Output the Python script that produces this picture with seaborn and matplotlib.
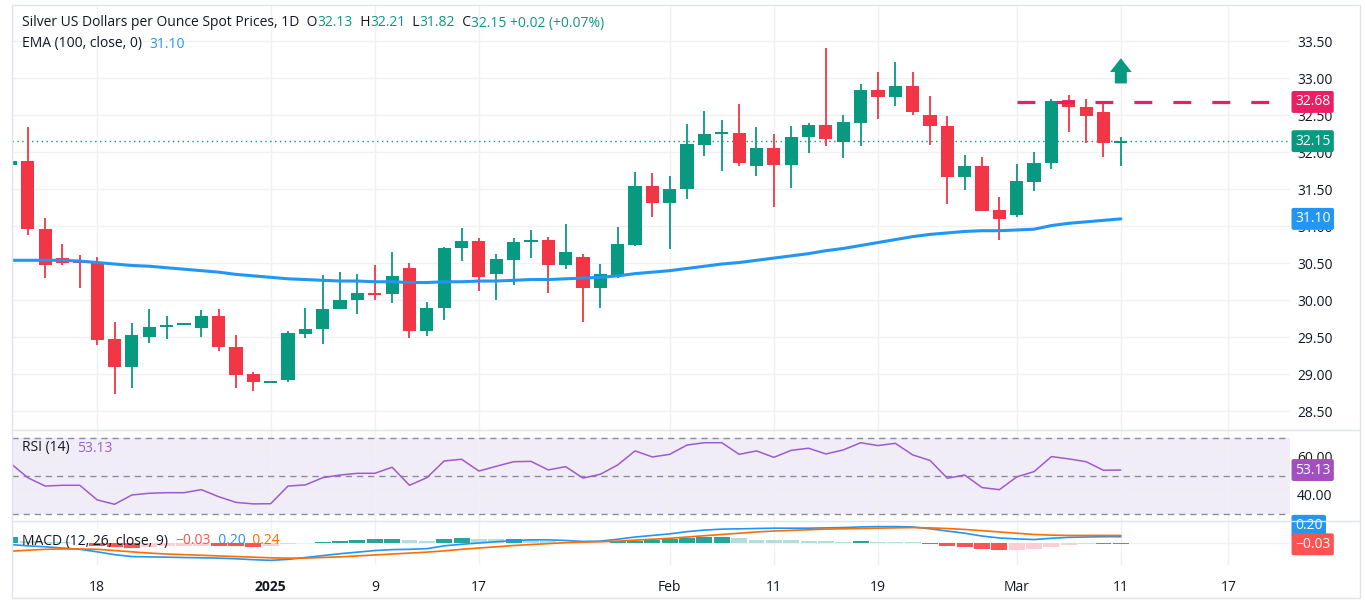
import numpy as np
import pandas as pd
import matplotlib
matplotlib.use("Agg")
import matplotlib.pyplot as plt
import matplotlib.transforms as mtransforms
from matplotlib.lines import Line2D
from matplotlib.patches import Rectangle
import seaborn as sns

# bar 0 is 2025-01-01, bar -15 is 2024-12-11 (partly cut at the left edge)
barIndex = list(range(-15, 50))

openPrices = [31.83, 31.88, 30.96, 30.57, 30.53, 30.51, 29.47, 29.10, 29.51, 29.64,
              29.67, 29.63, 29.79, 29.37, 29.00, 28.89, 28.92, 29.55, 29.61, 29.88,
              30.01, 30.10, 30.09, 30.43, 29.59, 29.89, 30.71, 30.80, 30.35, 30.55,
              30.79, 30.81, 30.48, 30.59, 30.16, 30.34, 30.75, 31.54, 31.32, 31.51,
              32.10, 32.25, 32.26, 31.82, 32.06, 31.83, 32.21, 32.37, 32.14, 32.40,
              32.84, 32.75, 32.90, 32.50, 32.35, 31.67, 31.81, 31.22, 31.15, 31.60,
              31.86, 32.70, 32.61, 32.54, 32.13]
highPrices = [31.90, 32.34, 31.11, 30.76, 30.61, 30.58, 29.71, 29.69, 29.88, 29.79,
              29.69, 29.87, 29.88, 29.53, 29.03, 28.91, 29.59, 29.90, 30.34, 30.38,
              30.36, 30.48, 30.65, 30.51, 29.98, 30.72, 30.98, 30.84, 30.63, 30.84,
              30.95, 30.86, 31.03, 30.63, 30.49, 30.99, 31.73, 31.72, 31.68, 32.38,
              32.56, 32.43, 32.65, 32.34, 32.25, 32.36, 32.39, 33.41, 32.50, 32.92,
              33.09, 33.22, 33.09, 32.76, 32.49, 31.96, 31.94, 31.40, 31.84, 32.01,
              32.72, 32.77, 32.72, 32.68, 32.21]
lowPrices = [31.80, 30.88, 30.30, 30.47, 30.16, 29.39, 28.73, 28.81, 29.42, 29.47,
             29.66, 29.51, 29.32, 28.81, 28.78, 28.89, 28.89, 29.49, 29.41, 29.88,
             29.81, 30.00, 29.96, 29.49, 29.52, 29.73, 30.53, 30.13, 30.00, 30.20,
             30.57, 30.10, 30.42, 29.70, 29.89, 30.30, 30.73, 31.13, 30.69, 31.37,
             31.95, 31.75, 31.81, 31.68, 31.26, 31.52, 31.99, 32.08, 31.92, 32.09,
             32.45, 32.63, 32.50, 32.10, 31.30, 31.49, 31.20, 30.81, 31.12, 31.47,
             31.78, 32.27, 32.12, 31.94, 31.82]
closePrices = [31.88, 30.96, 30.47, 30.51, 30.51, 29.46, 29.10, 29.53, 29.64, 29.67,
               29.69, 29.79, 29.37, 28.99, 28.89, 28.91, 29.56, 29.61, 29.88, 30.01,
               30.10, 30.08, 30.33, 29.59, 29.90, 30.71, 30.80, 30.32, 30.56, 30.79,
               30.81, 30.47, 30.65, 30.16, 30.35, 30.76, 31.54, 31.32, 31.50, 32.11,
               32.25, 32.27, 31.86, 32.06, 31.83, 32.21, 32.37, 32.18, 32.41, 32.84,
               32.75, 32.90, 32.55, 32.35, 31.67, 31.81, 31.21, 31.10, 31.61, 31.86,
               32.69, 32.61, 32.49, 32.12, 32.15]
emaValues = [30.54, 30.54, 30.54, 30.54, 30.53, 30.51, 30.49, 30.47, 30.46, 30.44,
             30.42, 30.40, 30.38, 30.35, 30.33, 30.31, 30.29, 30.28, 30.27, 30.26,
             30.26, 30.25, 30.25, 30.24, 30.24, 30.25, 30.25, 30.26, 30.26, 30.27,
             30.28, 30.28, 30.29, 30.30, 30.31, 30.33, 30.36, 30.38, 30.40, 30.43,
             30.46, 30.49, 30.51, 30.54, 30.57, 30.60, 30.63, 30.67, 30.70, 30.74,
             30.78, 30.82, 30.86, 30.89, 30.91, 30.93, 30.94, 30.94, 30.95, 30.96,
             31.01, 31.04, 31.06, 31.08, 31.10]
rsiValues = [56.7, 49.1, 44.7, 45.1, 45.1, 37.4, 35.1, 40.0, 40.9, 41.2,
             41.2, 42.8, 39.1, 36.1, 35.3, 35.4, 44.7, 45.3, 49.1, 50.5,
             51.4, 51.4, 54.6, 45.1, 49.1, 57.9, 58.8, 52.6, 55.1, 57.5,
             57.7, 53.2, 54.9, 48.9, 50.9, 55.8, 63.2, 60.0, 61.4, 66.3,
             67.5, 67.5, 61.4, 63.2, 59.8, 63.5, 64.6, 61.6, 63.7, 67.5,
             66.0, 67.2, 61.1, 58.2, 48.8, 50.5, 43.9, 42.8, 49.5, 52.3,
             60.2, 59.0, 57.5, 53.0, 53.13]
macdValues = [-0.05, -0.09, -0.12, -0.16, -0.20, -0.28, -0.37, -0.43, -0.44, -0.45,
              -0.46, -0.47, -0.48, -0.50, -0.53, -0.55, -0.52, -0.46, -0.40, -0.34,
              -0.29, -0.24, -0.21, -0.20, -0.18, -0.09, -0.04, 0.00, 0.04, 0.08,
              0.10, 0.10, 0.08, 0.05, 0.06, 0.12, 0.19, 0.24, 0.29, 0.36,
              0.41, 0.44, 0.45, 0.46, 0.47, 0.47, 0.47, 0.48, 0.49, 0.51,
              0.52, 0.52, 0.51, 0.45, 0.38, 0.31, 0.22, 0.16, 0.13, 0.11,
              0.15, 0.18, 0.19, 0.20, 0.20]
signalValues = [-0.26, -0.23, -0.20, -0.19, -0.19, -0.20, -0.24, -0.28, -0.32, -0.35,
                -0.37, -0.39, -0.41, -0.43, -0.45, -0.47, -0.48, -0.48, -0.46, -0.44,
                -0.41, -0.38, -0.35, -0.32, -0.29, -0.25, -0.20, -0.16, -0.12, -0.08,
                -0.05, -0.02, 0.01, 0.03, 0.04, 0.06, 0.09, 0.12, 0.15, 0.19,
                0.23, 0.27, 0.31, 0.35, 0.38, 0.40, 0.42, 0.44, 0.45, 0.46,
                0.47, 0.48, 0.49, 0.48, 0.46, 0.43, 0.39, 0.35, 0.31, 0.27,
                0.25, 0.24, 0.24, 0.24, 0.24]
histValues = [0.19, 0.06, 0.04, 0.03, 0.01, -0.10, -0.14, -0.15, -0.12, -0.10,
              -0.09, -0.08, -0.10, -0.11, -0.12, -0.08, -0.04, 0.01, 0.03, 0.06,
              0.10, 0.13, 0.14, 0.10, 0.06, 0.12, 0.16, 0.13, 0.12, 0.13,
              0.08, 0.05, 0.03, 0.02, 0.01, 0.05, 0.07, 0.10, 0.12, 0.15,
              0.175, 0.18, 0.15, 0.11, 0.09, 0.08, 0.075, 0.05, 0.04, 0.05,
              0.045, 0.04, 0.02, -0.04, -0.08, -0.13, -0.19, -0.23, -0.21, -0.19,
              -0.12, -0.05, -0.02, -0.025, -0.03]

tickPositions = [-10, 0, 6, 12, 23, 29, 35, 43, 49, 55.2]
tickLabels = ["18", "2025", "9", "17", "Feb", "11", "19", "Mar", "11", "17"]
priceTicks = [28.5, 29.0, 29.5, 30.0, 30.5, 31.0, 31.5, 32.0, 32.5, 33.0, 33.5]
rsiTicks = [40, 60]
rsiBands = [30, 50, 70]

resistanceLevel = 32.68
resistanceStartBar = 43
arrowBase = 32.93
arrowTop = 33.27

upColor = "#089981"
downColor = "#f23645"
emaColor = "#2196f3"
rsiColor = "#9c5bcf"
macdColor = "#2196f3"
signalColor = "#ff6d00"
histColors = {"upStrong" : "#26a69a", "upWeak" : "#b2dfdb",
              "downStrong" : "#ff5252", "downWeak" : "#ffcdd2"}
textColor = "#131722"
gridColor = "#f0f1f4"
lineColor = "#e0e3eb"

W, H = 1365, 608


def pxBox(left, top, right, bottom) :
    return [left / W, 1 - bottom / H, (right - left) / W, (bottom - top) / H]


def addTag(ax, y, txt, color, yInAxes = False) :
    trans = mtransforms.blended_transform_factory(
        ax.transAxes, ax.transAxes if yInAxes else ax.transData)
    ax.text(1.0 + 5 / 1278, y, txt, transform = trans, ha = "left", va = "center",
            color = "white", fontsize = 10, clip_on = False, zorder = 20,
            bbox = dict(boxstyle = "round,pad=0.25,rounding_size=0.15", fc = color, ec = "none"))


sns.set_theme(style = "white")
plt.rcParams["font.family"] = ["Open Sans", "DejaVu Sans"]
plt.rcParams["axes.unicode_minus"] = True

df = pd.DataFrame({
    "bar" : barIndex, "open" : openPrices, "high" : highPrices, "low" : lowPrices,
    "close" : closePrices, "ema" : emaValues, "rsi" : rsiValues,
    "macd" : macdValues, "signal" : signalValues, "hist" : histValues,
})

fig = plt.figure(figsize = (W / 100, H / 100), dpi = 100)
fig.patch.set_facecolor("white")
axMain = fig.add_axes(pxBox(12, 5, 1290, 430))
axRsi = fig.add_axes(pxBox(12, 430, 1290, 521), sharex = axMain)
axMacd = fig.add_axes(pxBox(12, 521, 1290, 565), sharex = axMain)

for ax in (axMain, axRsi, axMacd) :
    ax.set_facecolor("white")
    for s in ax.spines.values() :
        s.set_visible(False)
    ax.set_xticks(tickPositions)
    ax.grid(True, color = gridColor, linewidth = 1)
    ax.set_axisbelow(True)
    ax.tick_params(axis = "both", length = 0, labelsize = 10, labelcolor = textColor)
    ax.yaxis.tick_right()

axMain.set_xlim(-14.91, 58.75)

# candles
isUp = df["close"] >= df["open"]
candleColors = np.where(isUp, upColor, downColor)
bodyHeight = np.maximum((df["close"] - df["open"]).abs(), 0.025)
bodyBottom = (df["close"] + df["open"]) / 2 - bodyHeight / 2
axMain.vlines(df["bar"], df["low"], df["high"], colors = candleColors, linewidth = 1.3, zorder = 3)
axMain.bar(df["bar"], bodyHeight, bottom = bodyBottom, width = 0.76,
           color = candleColors, linewidth = 0, zorder = 4)

sns.lineplot(data = df, x = "bar", y = "ema", ax = axMain, color = emaColor,
             linewidth = 2.2, zorder = 5)

lastBar = barIndex[-1]
lastClose = closePrices[-1]
axMain.axhline(lastClose, color = upColor, linewidth = 1, linestyle = (0, (1, 2.5)), zorder = 2)
axMain.hlines(resistanceLevel, resistanceStartBar, 58.75, color = "#e91e63",
              linewidth = 2.3, linestyles = [(0, (5.6, 6.6))], zorder = 6)
axMain.arrow(lastBar, arrowBase, 0, arrowTop - arrowBase, width = 0.69, head_width = 1.25,
             head_length = 0.185, length_includes_head = True, color = upColor,
             linewidth = 0, zorder = 6)

axMain.set_ylim(28.247, 33.99)
axMain.set_yticks(priceTicks)
axMain.set_yticklabels([f"{v:.2f}" for v in priceTicks])
axMain.tick_params(axis = "y", pad = 5)
axMain.tick_params(axis = "x", labelbottom = False)
axMain.set_xlabel("")
axMain.set_ylabel("")

# RSI pane
axRsi.axhspan(rsiBands[0], rsiBands[-1], color = "#7e57c2", alpha = 0.1, linewidth = 0, zorder = 0)
for lvl in rsiBands :
    axRsi.axhline(lvl, color = "#8a8d96", linewidth = 1, linestyle = (0, (4.5, 3.5)), zorder = 1)
sns.lineplot(data = df, x = "bar", y = "rsi", ax = axRsi, color = rsiColor, linewidth = 1.1, zorder = 3)
axRsi.set_ylim(26.3, 74.2)
axRsi.set_yticks(rsiTicks)
axRsi.set_yticklabels([f"{v:.2f}" for v in rsiTicks])
axRsi.tick_params(axis = "y", pad = 5)
axRsi.tick_params(axis = "x", labelbottom = False)
axRsi.set_xlabel("")
axRsi.set_ylabel("")

# MACD pane, histogram shade follows rising / falling bars
histPrev = [0.0] + histValues[:-1]
barColors = []
for h, p in zip(histValues, histPrev) :
    if h >= 0 :
        barColors.append(histColors["upStrong"] if h > p else histColors["upWeak"])
    else :
        barColors.append(histColors["downStrong"] if h < p else histColors["downWeak"])
axMacd.bar(df["bar"], df["hist"], width = 0.92, color = barColors, linewidth = 0, zorder = 2)
sns.lineplot(data = df, x = "bar", y = "macd", ax = axMacd, color = macdColor, linewidth = 1.2, zorder = 3)
sns.lineplot(data = df, x = "bar", y = "signal", ax = axMacd, color = signalColor, linewidth = 1.2, zorder = 3)
axMacd.set_ylim(-0.698, 0.698)
axMacd.set_yticks([0])
axMacd.set_yticklabels([""])
axMacd.set_xticklabels(tickLabels)
axMacd.tick_params(axis = "x", pad = 11)
for lab in axMacd.get_xticklabels() :
    if lab.get_text() == "2025" :
        lab.set_fontweight("bold")
axMacd.set_xlabel("")
axMacd.set_ylabel("")

# price tags on the right scale
addTag(axMain, resistanceLevel, f"{resistanceLevel:.2f}", "#e91e63")
addTag(axMain, lastClose, f"{lastClose:.2f}", upColor)
addTag(axMain, emaValues[-1], f"{emaValues[-1]:.2f}", emaColor)
addTag(axRsi, rsiValues[-1], f"{rsiValues[-1]:.2f}", "#a34fc4")
addTag(axMacd, 0.89, f"{macdValues[-1]:.2f}", macdColor, yInAxes = True)
addTag(axMacd, 0.47, f"\u2212{abs(histValues[-1]):.2f}", "#ff5252", yInAxes = True)

# legends, written as runs of coloured text
fig.canvas.draw()
renderer = fig.canvas.get_renderer()


def writeRow(x, y, pieces, size = 10) :
    xPos = x
    for txt, col in pieces :
        t = fig.text(xPos / W, 1 - y / H, txt, color = col, fontsize = size,
                     va = "center", ha = "left", zorder = 30)
        xPos += t.get_window_extent(renderer).width


writeRow(22, 23, [("Silver US Dollars per Ounce Spot Prices, 1D  O", textColor), ("32.13", upColor),
                  ("  H", textColor), ("32.21", upColor), ("  L", textColor), ("31.82", upColor),
                  ("  C", textColor), ("32.15 +0.02 (+0.07%)", upColor)])
writeRow(22, 44, [("EMA (100, close, 0)  ", textColor), (f"{emaValues[-1]:.2f}", emaColor)])
writeRow(22, 448, [("RSI (14)  ", textColor), (f"{rsiValues[-1]:.2f}", rsiColor)])
writeRow(22, 541, [("MACD (12, 26, close, 9)  ", textColor), ("\u22120.03", "#ff5252"),
                   ("  0.20", macdColor), ("  0.24", signalColor)])

# pane separators and outer frame
for yPx in (430, 521) :
    fig.add_artist(Line2D([12 / W, 1360 / W], [1 - yPx / H, 1 - yPx / H], color = lineColor, linewidth = 1))
fig.add_artist(Rectangle((11.5 / W, 1 - 598 / H), (1360 - 11.5) / W, (598 - 5) / H,
                         fill = False, edgecolor = lineColor, linewidth = 1, transform = fig.transFigure))

fig.savefig("out.png", dpi = 100)
